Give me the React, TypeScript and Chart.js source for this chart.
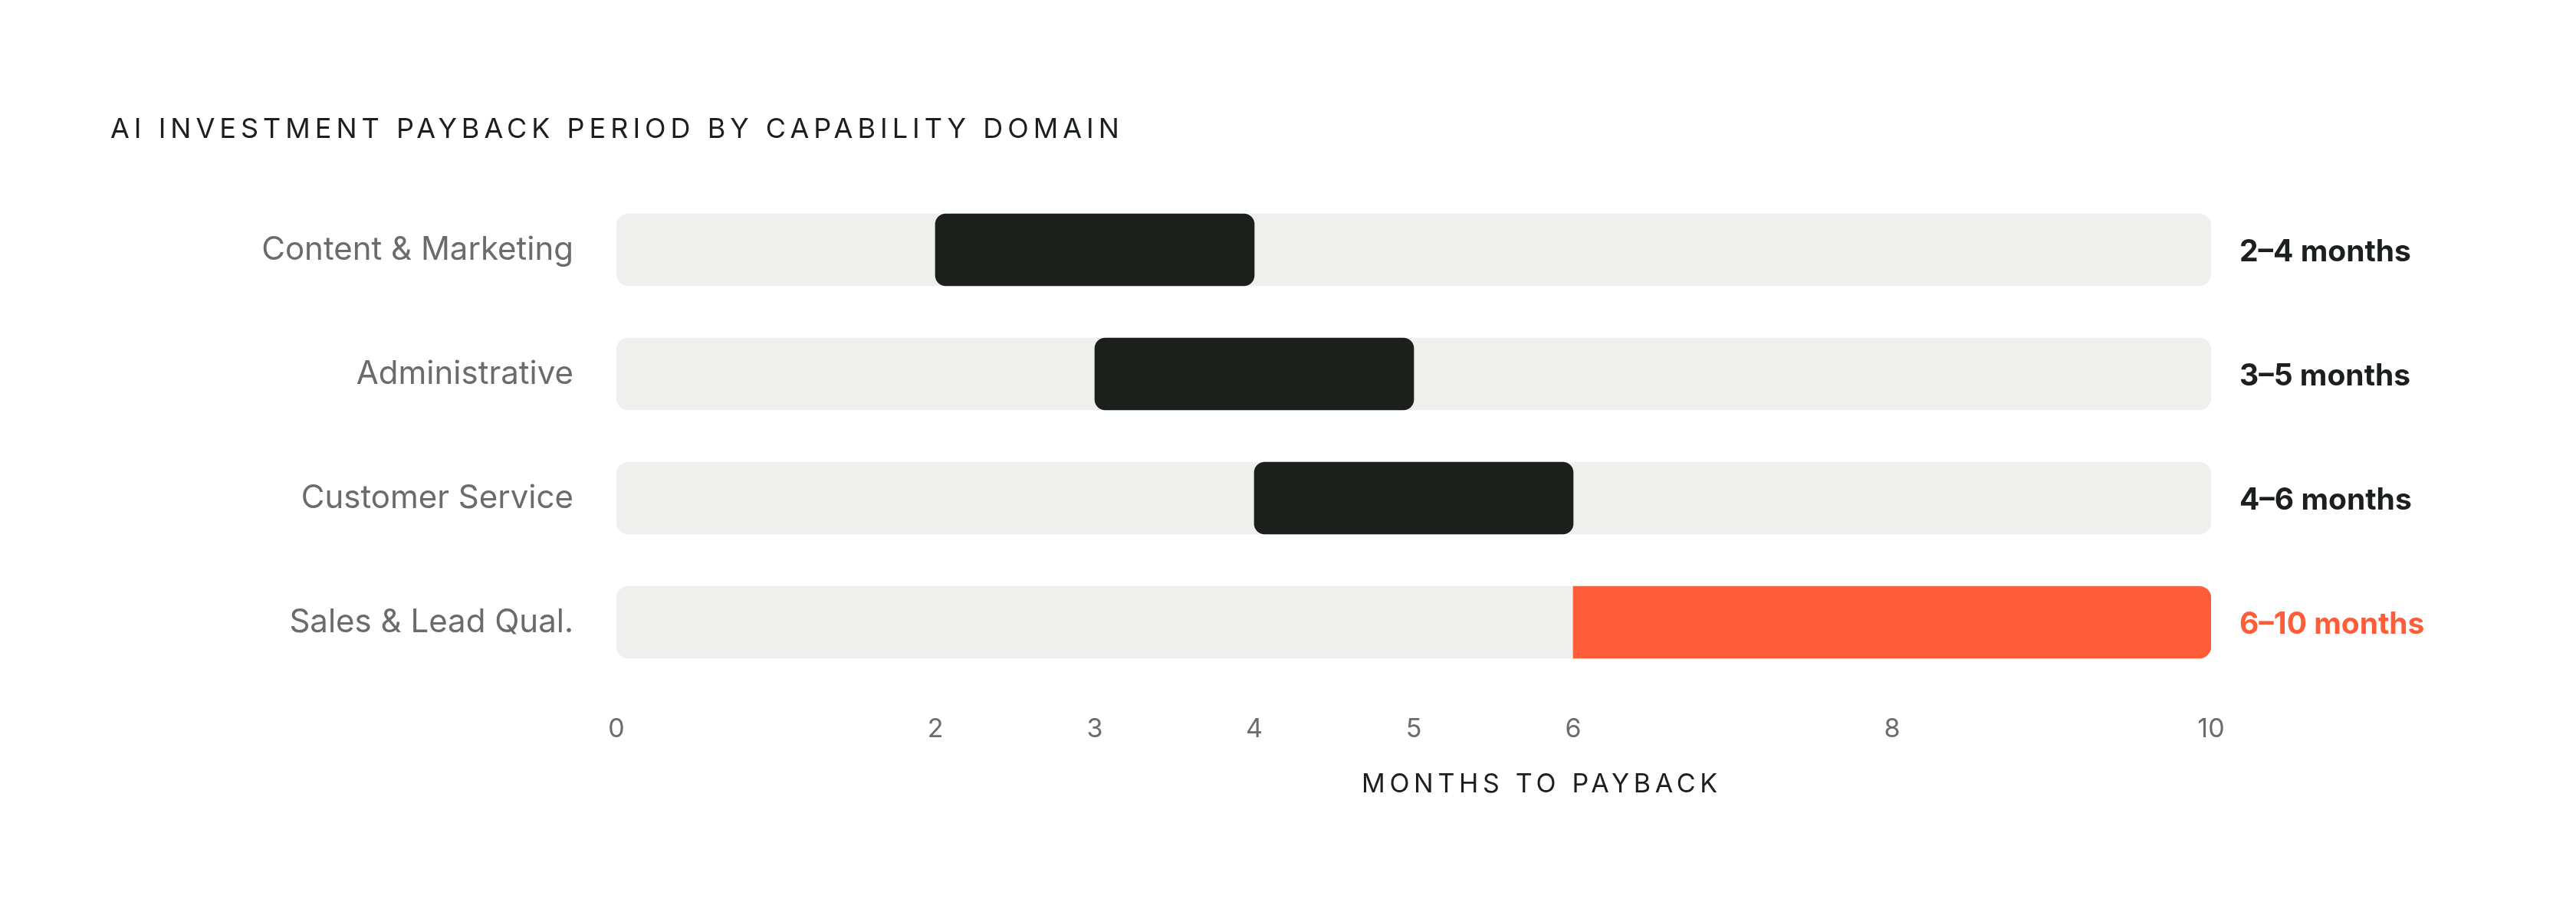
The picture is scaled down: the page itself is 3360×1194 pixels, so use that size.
import { useEffect, useRef } from 'react'
import Chart from 'chart.js/auto'

const categories = ['Content & Marketing', 'Administrative', 'Customer Service', 'Sales & Lead Qual.']
const paybackFrom = [2, 3, 4, 6]
const paybackTo = [4, 5, 6, 10]
const rangeLabels = ['2–4 months', '3–5 months', '4–6 months', '6–10 months']
const tickValues = [0, 2, 3, 4, 5, 6, 8, 10]
const axisMin = 0
const axisMax = 10
const highlighted = 'Sales & Lead Qual.'

const chartTitle = 'AI INVESTMENT PAYBACK PERIOD BY CAPABILITY DOMAIN'
const axisTitle = 'MONTHS TO PAYBACK'

const DARK = '#1c201d'
const ORANGE = '#ff5c39'
const TRACK = '#efefed'
const GREY = '#6b6b6b'
const FONT = 'Inter, "Noto Sans", sans-serif'

export default function App() {
  const canvasRef = useRef<HTMLCanvasElement | null>(null)

  useEffect(() => {
    document.body.style.margin = '0'
    if (!canvasRef.current) return
    const ctx = canvasRef.current.getContext('2d')
    if (!ctx) return

    // titles and the right-hand range labels
    const textPlugin = {
      id: 'paybackText',
      afterDraw(chart: any) {
        const c = chart.ctx
        const area = chart.chartArea
        const yScale = chart.scales.y
        c.save()

        c.fillStyle = DARK
        c.font = `400 36px ${FONT}`
        c.letterSpacing = '6px'
        c.textAlign = 'left'
        c.textBaseline = 'alphabetic'
        c.fillText(chartTitle, 144, 180)

        c.font = `400 34px ${FONT}`
        c.letterSpacing = '5.7px'
        const w = c.measureText(axisTitle).width - 5.7
        c.fillText(axisTitle, 2008 - w / 2, 1034)

        c.letterSpacing = '0px'
        c.font = `700 39px ${FONT}`
        rangeLabels.forEach((label, i) => {
          const y = yScale.getPixelForValue(i)
          c.fillStyle = categories[i] === highlighted ? ORANGE : DARK
          c.fillText(label, area.right + 37, y + 15)
        })
        c.restore()
      },
    }

    const chart = new Chart(ctx, {
      type: 'bar',
      data: {
        labels: categories,
        datasets: [
          {
            label: 'Payback range',
            data: categories.map((_, i) => [paybackFrom[i], paybackTo[i]]),
            backgroundColor: categories.map((c) => (c === highlighted ? ORANGE : DARK)),
            borderSkipped: false,
            borderRadius: (ctx: any) =>
              paybackTo[ctx.dataIndex] >= axisMax
                ? { topLeft: 0, bottomLeft: 0, topRight: 16, bottomRight: 16 }
                : { topLeft: 14, bottomLeft: 14, topRight: 14, bottomRight: 14 },
            barThickness: 94,
            grouped: false,
            order: 0,
          },
          {
            label: 'Track',
            data: categories.map(() => [axisMin, axisMax]),
            backgroundColor: TRACK,
            borderSkipped: false,
            borderRadius: 16,
            barThickness: 94,
            grouped: false,
            order: 1,
          },
        ],
      },
      options: {
        indexAxis: 'y',
        animation: false,
        responsive: true,
        maintainAspectRatio: false,
        layout: { padding: { top: 245, right: 476, bottom: 0, left: 0 } },
        plugins: {
          legend: { display: false },
          tooltip: { enabled: false },
          title: { display: false },
        },
        scales: {
          x: {
            type: 'linear',
            min: axisMin,
            max: axisMax,
            afterBuildTicks: (scale: any) => {
              scale.ticks = tickValues.map((v) => ({ value: v }))
            },
            afterFit: (scale: any) => {
              scale.height = 301
            },
            grid: { display: false, drawTicks: false },
            border: { display: false },
            ticks: {
              color: GREY,
              font: { family: FONT, size: 34 },
              padding: 38,
              maxRotation: 0,
              autoSkip: false,
            },
          },
          y: {
            afterFit: (scale: any) => {
              scale.width = 804
            },
            grid: { display: false, drawTicks: false },
            border: { display: false },
            ticks: {
              color: GREY,
              font: { family: FONT, size: 42 },
              padding: 56,
            },
          },
        },
      },
      plugins: [textPlugin],
    })

    return () => {
      chart.destroy()
    }
  }, [])

  return (
    <div style={{ position: 'relative', width: '3360px', height: '1194px', background: '#fff' }}>
      <canvas ref={canvasRef} />
    </div>
  )
}
